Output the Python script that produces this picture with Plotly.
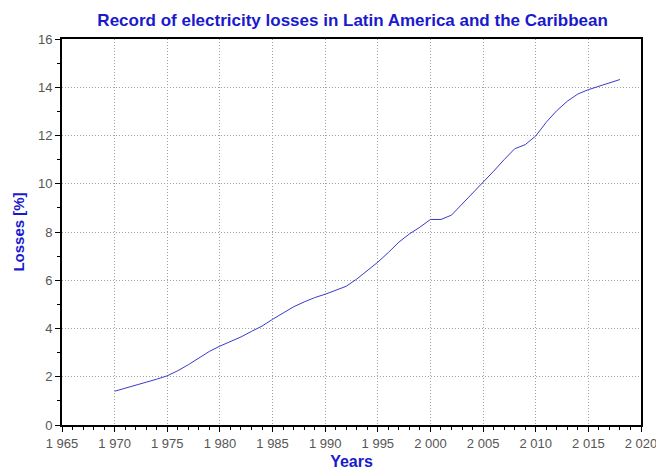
import plotly.graph_objects as go

# Annual electricity losses, Latin America and the Caribbean
years = list(range(1970, 2019))
losses = [
    1.40, 1.52, 1.64, 1.77, 1.90, 2.04, 2.25, 2.50, 2.78, 3.05,
    3.27, 3.45, 3.65, 3.88, 4.10, 4.38, 4.65, 4.90, 5.10, 5.28,
    5.42, 5.58, 5.75, 6.05, 6.40, 6.75, 7.15, 7.58, 7.92, 8.20,
    8.52, 8.52, 8.70, 9.15, 9.62, 10.05, 10.52, 11.00, 11.45, 11.62,
    11.98, 12.55, 13.03, 13.42, 13.72, 13.90, 14.05, 14.18, 14.32,
]

x_tick_vals = list(range(1965, 2021, 5))
x_tick_text = ["1 965", "1 970", "1 975", "1 980", "1 985", "1 990", "1 995",
               "2 000", "2 005", "2 010", "2 015", "2 020"]
y_tick_vals = list(range(0, 17, 2))

blue = "#1a1acc"
font_family = "Liberation Sans, Arial, sans-serif"

fig = go.Figure()
fig.add_trace(go.Scatter(
    x=years, y=losses, mode="lines",
    line=dict(color="#3a3acc", width=1),
    showlegend=False,
))

axis_common = dict(
    showline=True, linecolor="black", linewidth=2, mirror=True,
    ticks="outside", ticklen=5, tickwidth=1, tickcolor="black",
    showgrid=True, gridcolor="#a0a0a0", griddash="1px,2px", gridwidth=1,
    zeroline=False, automargin=False, ticklabeloverflow="allow",
    tickfont=dict(family=font_family, size=13, color="#555555"),
)

fig.update_xaxes(
    **axis_common,
    range=[1965, 2020],
    tickmode="array", tickvals=x_tick_vals, ticktext=x_tick_text,
    minor=dict(dtick=1, ticks="outside", ticklen=3, tickcolor="black", showgrid=False),
    title=dict(text="<b>Years</b>", font=dict(family=font_family, size=16, color=blue),
               standoff=6),
)
fig.update_yaxes(
    **axis_common,
    range=[0, 16],
    tickmode="array", tickvals=y_tick_vals,
    minor=dict(dtick=1, ticks="outside", ticklen=3, tickcolor="black", showgrid=False),
    title=dict(text="<b>Losses [%]</b>", font=dict(family=font_family, size=15, color=blue),
               standoff=10),
)

fig.update_layout(
    width=656, height=471,
    margin=dict(l=62, r=15, t=39, b=46),
    paper_bgcolor="white", plot_bgcolor="white",
    title=dict(
        text="<b>Record of electricity losses in Latin America and the Caribbean</b>",
        font=dict(family=font_family, size=17, color=blue),
        x=0.5375, xanchor="center", y=0.958, yanchor="middle",
    ),
)

fig.write_html("out.html")
